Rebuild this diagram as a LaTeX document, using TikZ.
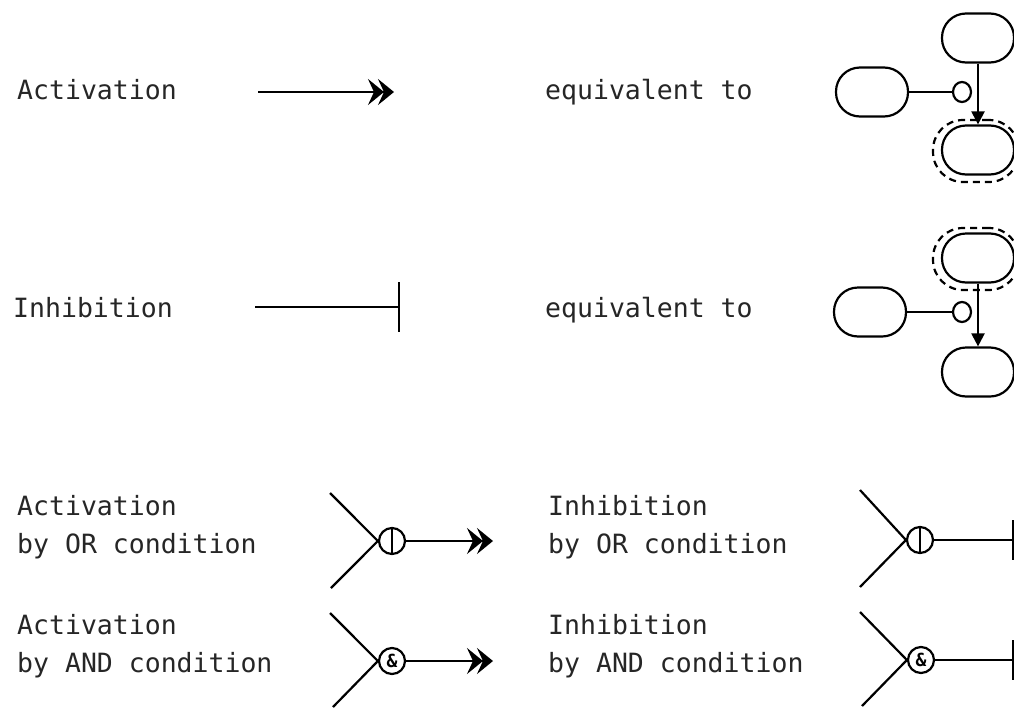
\documentclass[tikz,border=0pt]{standalone}
\usepackage{fontspec}
\newfontfamily\monof{DejaVu Sans Mono}
\usetikzlibrary{arrows.meta,shapes.geometric}
\begin{document}
\begin{tikzpicture}[x=1pt,y=-1pt,
  lbl/.style={font=\monof\fontsize{26.5}{38}\selectfont, inner sep=0pt, align=left, text=black!85},
  ln/.style={line width=2.2pt},
  oval/.style={draw, line width=2.2pt, minimum width=72pt, minimum height=49pt, rounded corners=24pt, inner sep=0pt},
  halo/.style={draw, dash pattern=on 7pt off 5pt, line width=2.2pt, minimum width=86pt, minimum height=62pt, rounded corners=30pt, inner sep=0pt},
  knob/.style={draw, ellipse, line width=2.2pt, minimum width=18pt, minimum height=20pt, inner sep=0pt},
  gate/.style={draw, circle, line width=2.2pt, minimum size=26pt, inner sep=0pt, font=\monof\bfseries\fontsize{18}{18}\selectfont},
  act/.style={line width=2.2pt, -{Stealth[length=16pt,width=26pt,inset=6pt,sep=-6pt]Stealth[length=16pt,width=26pt,inset=6pt]}},
  inh/.style={line width=2.2pt, -{Bar[width=50pt,line width=2.4pt]}},
  inhedge/.style={line width=2.2pt, -{Bar[width=40pt,line width=2.4pt]}},
  tip/.style={line width=2.2pt, -{Triangle[length=13pt,width=13pt]}}]
\useasboundingbox (0,0) rectangle (1014,707);
\fill[white] (0,0) rectangle (1014,707);

% Activation row
\node[lbl, anchor=base west] (tA) at (17,99) {Activation};
\coordinate (a1s) at (258,92);
\coordinate (a1e) at (394,92);
\draw[act] (a1s) -- (a1e);
\node[lbl, anchor=base west] (eq1) at (545,99) {equivalent to};
\node[oval] (d1l) at (872,92) {};
\node[oval] (d1t) at (978,38) {};
\node[oval] (d1b) at (978,150) {};
\node[halo] (d1h) at (976,151) {};
\node[knob] (d1k) at (962,92) {};
\draw[ln] (d1l) -- (d1k);
\draw[tip] (d1t) -- (d1b);

% Inhibition row
\node[lbl, anchor=base west] (tI) at (13,317) {Inhibition};
\coordinate (i1s) at (255,307);
\coordinate (i1e) at (400,307);
\draw[inh] (i1s) -- (i1e);
\node[lbl, anchor=base west] (eq2) at (545,317) {equivalent to};
\node[oval] (d2t) at (978,258) {};
\node[halo] (d2h) at (976,259) {};
\node[oval] (d2l) at (870,312) {};
\node[knob] (d2k) at (962,312) {};
\node[oval] (d2b) at (978,372) {};
\draw[ln] (d2l) -- (d2k);
\draw[tip] (d2t) -- (d2b);

% OR / AND conditions
\node[lbl, anchor=west] (tAO) at (17,527) {Activation\\by OR condition};
\node[lbl, anchor=west] (tIO) at (548,527) {Inhibition\\by OR condition};
\node[lbl, anchor=west] (tAA) at (17,646) {Activation\\by AND condition};
\node[lbl, anchor=west] (tIA) at (548,646) {Inhibition\\by AND condition};

\node[gate] (g1) at (392,541) {};
\draw[ln] (g1.north) -- (g1.south);
\coordinate (g1a) at (330,493);
\coordinate (g1b) at (331,588);
\coordinate (g1e) at (493,541);
\draw[ln] (g1a) -- (g1.west) -- (g1b);
\draw[act] (g1) -- (g1e);

\node[gate] (g2) at (920,540) {};
\draw[ln] (g2.north) -- (g2.south);
\coordinate (g2a) at (860,490);
\coordinate (g2b) at (860,587);
\coordinate (g2e) at (1014,540);
\draw[ln] (g2a) -- (g2.west) -- (g2b);
\draw[inhedge] (g2) -- (g2e);

\node[gate] (g3) at (392,661) {\&};
\coordinate (g3a) at (330,613);
\coordinate (g3b) at (333,707);
\coordinate (g3e) at (493,661);
\draw[ln] (g3a) -- (g3.west) -- (g3b);
\draw[act] (g3) -- (g3e);

\node[gate] (g4) at (921,660) {\&};
\coordinate (g4a) at (860,612);
\coordinate (g4b) at (862,706);
\coordinate (g4e) at (1014,660);
\draw[ln] (g4a) -- (g4.west) -- (g4b);
\draw[inhedge] (g4) -- (g4e);
\end{tikzpicture}
\end{document}
